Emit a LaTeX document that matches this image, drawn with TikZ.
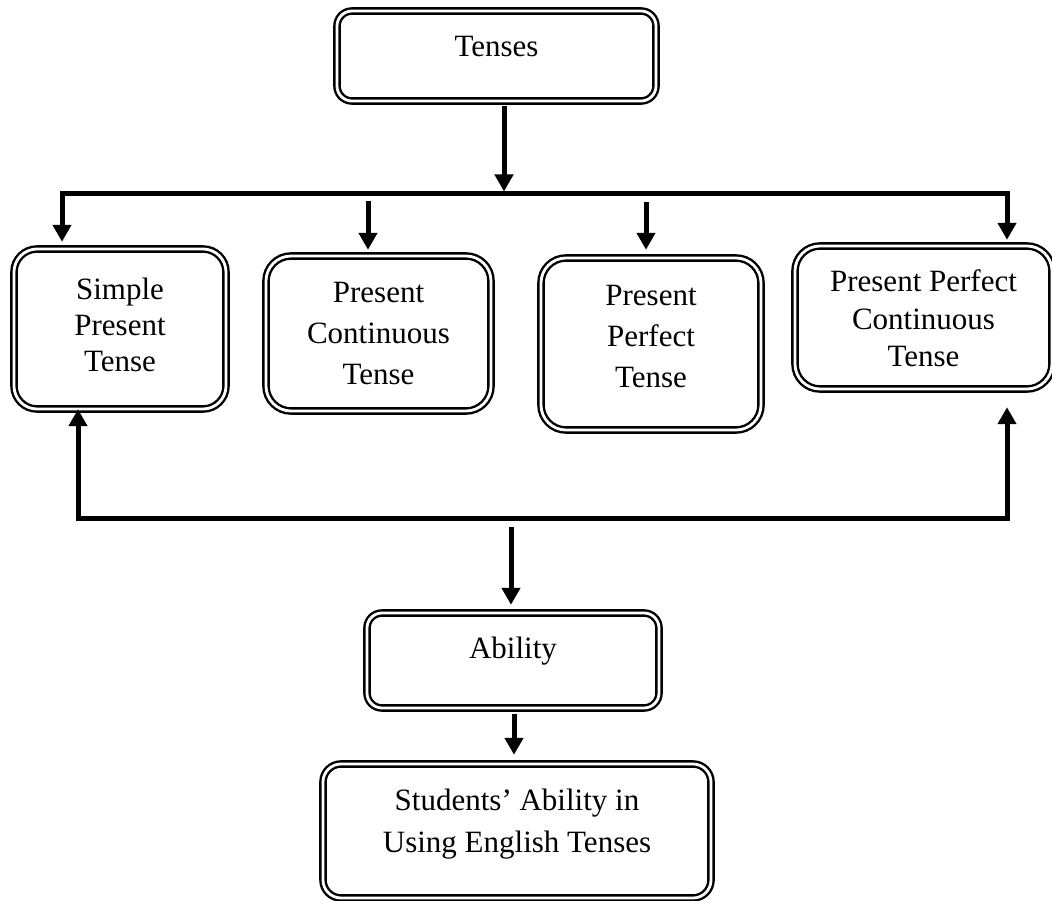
\documentclass[tikz,border=0pt]{standalone}
\usepackage{fontspec}
\setmainfont{Liberation Serif}
\usetikzlibrary{arrows.meta,calc}
\begin{document}
\begin{tikzpicture}[x=1pt,y=-1pt,
  dbox/.style={draw=black, double=white, line width=2.4pt, double distance=2.8pt,
     rounded corners=#1, inner sep=0pt},
  dbox/.default=22pt,
  lbl/.style={align=center, font=\fontsize{31}{#1}\selectfont, inner sep=0pt},
  lbl/.default=41pt,
  conn/.style={line width=5pt, line join=miter, -{Triangle[width=18pt,length=17pt]}},
  conn2/.style={line width=5pt, line join=miter, {Triangle[width=18pt,length=17pt]}-{Triangle[width=18pt,length=17pt]}}
]
\fill[white] (0,0) rectangle (1052,901);
\useasboundingbox (0,0) rectangle (1052,901);

% boxes
\node[dbox=15pt, minimum width=319pt, minimum height=90pt,
  label={[lbl, yshift=9pt]center:Tenses}] (tenses) at (496.5,56) {};
\node[dbox=23pt, minimum width=212pt, minimum height=160pt,
  label={[lbl=36pt, yshift=4pt]center:Simple\\Present\\Tense}] (b1) at (120,329) {};
\node[dbox=25pt, minimum width=225pt, minimum height=155pt,
  label={[lbl=41pt, yshift=0pt]center:Present\\Continuous\\Tense}] (b2) at (378.5,333.5) {};
\node[dbox=25pt, minimum width=220pt, minimum height=172pt,
  label={[lbl=41pt, yshift=7pt]center:Present\\Perfect\\Tense}] (b3) at (651,344) {};
\node[dbox=25pt, minimum width=257pt, minimum height=143pt,
  label={[lbl=37.5pt, yshift=-1pt]center:Present Perfect\\Continuous\\Tense}] (b4) at (923.5,317.5) {};
\node[dbox=15pt, minimum width=292pt, minimum height=95pt,
  label={[lbl, yshift=9.5pt]center:Ability}] (ability) at (513,660.5) {};
\node[dbox=18pt, minimum width=388pt, minimum height=134pt,
  label={[lbl=42pt, yshift=7pt]center:Students’ Ability in\\Using English Tenses}] (students) at (517,831) {};

% coordinates
\coordinate (tT) at (504,194);
\coordinate (tL) at (62,194);
\coordinate (tR) at (1007,194);
\coordinate (a2) at (368,201);
\coordinate (a3) at (646,202);
\coordinate (bL) at (78,518);
\coordinate (bR) at (1007,518);
\coordinate (am) at (511,527);

% connectors
\draw[conn, shorten <=3.5pt, shorten >=2.5pt] (tenses.south -| tT) -- (tT);
\draw[conn2, shorten <=6pt, shorten >=5pt] (tL |- b1.north) -- (tL) -- (tR) -- (tR |- b4.north);
\draw[conn, shorten >=5pt] (a2) -- (a2 |- b2.north);
\draw[conn, shorten >=7pt] (a3) -- (a3 |- b3.north);
\draw[conn2, shorten <=-1pt, shorten >=17pt] (bL |- b1.south) -- (bL) -- (bR) -- (bR |- b4.south);
\draw[conn, shorten >=7pt] (am) -- (am |- ability.north);
\draw[conn, shorten <=5pt, shorten >=8pt] ($(ability.south)+(1,0)$) -- ($(students.north)+(-3,0)$);
\end{tikzpicture}
\end{document}
